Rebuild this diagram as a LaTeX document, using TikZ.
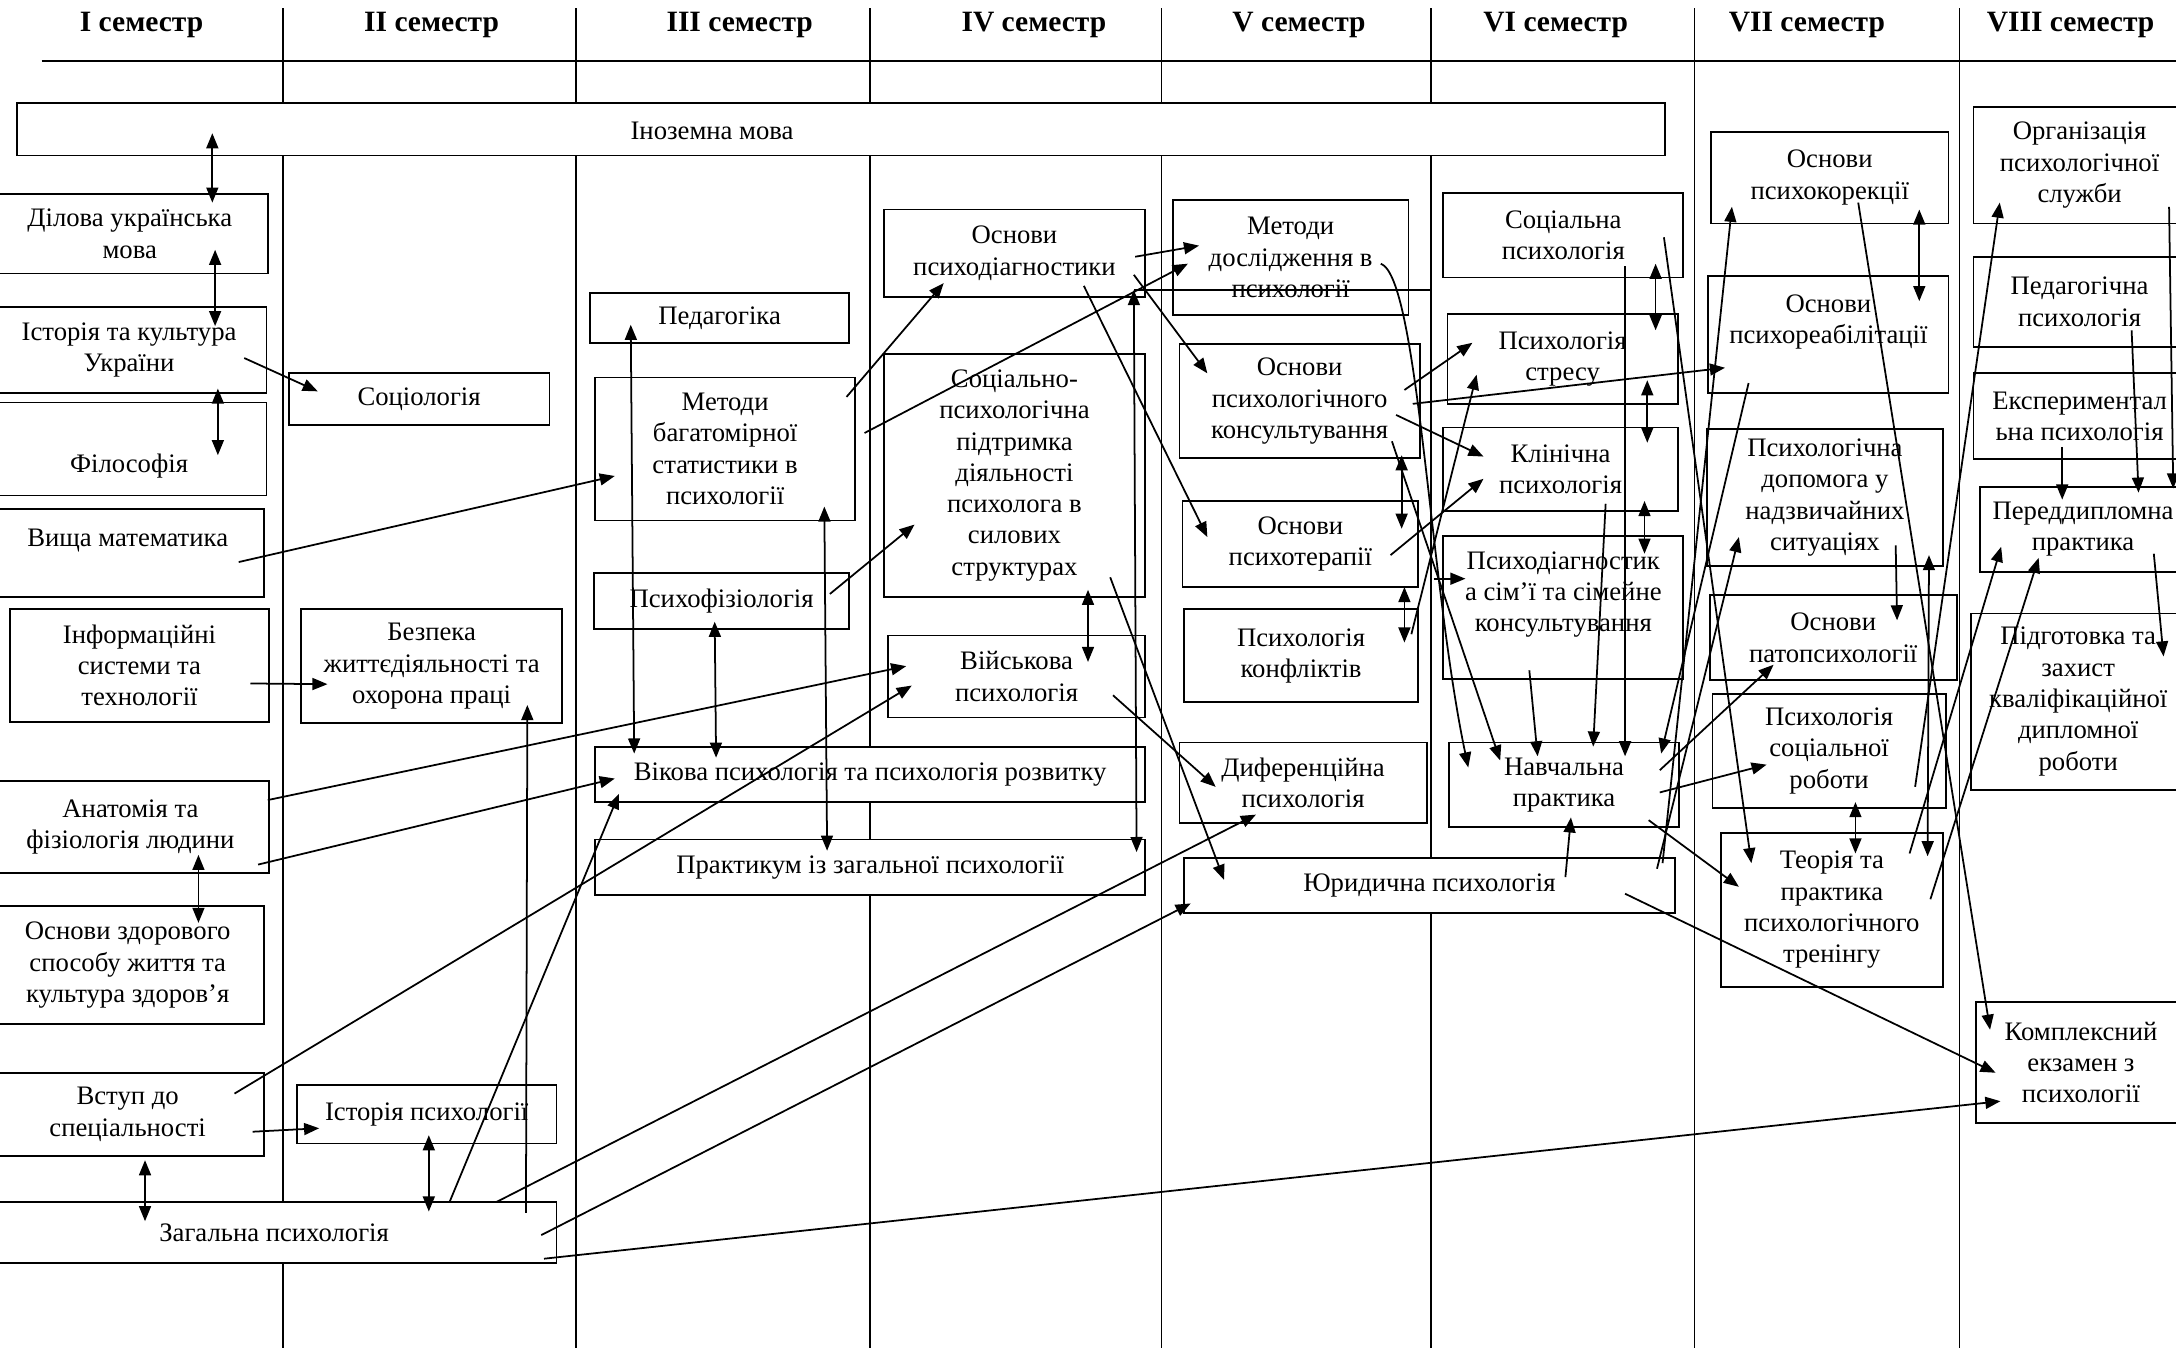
\documentclass[tikz,border=0pt]{standalone}
\usepackage{fontspec}
\setmainfont{Liberation Serif}
\usepackage{tikz}
\usetikzlibrary{arrows.meta,positioning,calc}

\begin{document}
\begin{tikzpicture}[x=0.013878cm, y=-0.013878cm,
  every node/.style={font=\fontsize{7.6}{8.9}\selectfont},
  box/.style={draw, fill=white, line width=0.5pt, inner sep=0pt, align=center},
  spanbox/.style n args={4}{at={({(#1+#3)/2},{(#2+#4)/2})},
    minimum width={(#3-(#1))*0.013878cm}, minimum height={(#4-(#2))*0.013878cm}},
  head/.style={font=\fontsize{8.4}{10}\selectfont\bfseries},
  arr/.style={line width=0.5pt, -{Triangle[length=4.3pt,width=3.4pt]}},
  dbl/.style={line width=0.5pt, {Triangle[length=4.3pt,width=3.4pt]}-{Triangle[length=4.3pt,width=3.4pt]}}]
\useasboundingbox (0,0) rectangle (1568,971);
\fill[white] (0,0) rectangle (1568,971);

% Semester columns
\foreach \x in {204,415,627,837,1031,1221,1412}
  \draw[line width=0.45pt] (\x,6) -- (\x,971);
\draw[line width=0.5pt] (30,44) -- (1568,44);
\foreach \x/\sem/\nm in {102/I/s1, 311/II/s2, 533/III/s3, 745/IV/s4, 936/V/s5, 1121/VI/s6, 1302/VII/s7, 1492/VIII/s8}
  \node[head] (\nm) at (\x,18) {\sem{} семестр};

% Foreign language, all semesters
\node[box, spanbox={12}{74}{1200}{112}, label={[xshift=-36.7pt, yshift=-0.6pt]center:Іноземна мова}] (inoz) {};

% I semester
\node[box, spanbox={-6}{140}{193}{197}] (dilova) {Ділова українська\\мова};
\node[box, spanbox={-6}{221}{192}{283}] (istukr) {Історія та культура\\України};
\node[box, spanbox={-6}{290}{192}{357}] (filos) {\strut\\Філософія};
\node[box, spanbox={-6}{367}{190}{430}] (vyshmat) {Вища математика\\\mbox{}};
\node[box, spanbox={7}{439}{194}{520}] (inform) {Інформаційні\\системи та\\технології};
\node[box, spanbox={-6}{563}{194}{629}] (anat) {Анатомія та\\фізіологія людини};
\node[box, spanbox={-6}{653}{190}{738}] (zdorov) {Основи здорового\\способу життя та\\культура здоров’я};
\node[box, spanbox={-6}{773}{190}{833}] (vstup) {Вступ до\\спеціальності};
\node[box, spanbox={-6}{866}{401}{910}] (zagal) {Загальна психологія};

% II semester
\node[box, spanbox={208}{269}{396}{306}] (sociol) {Соціологія};
\node[box, spanbox={217}{439}{405}{521}] (bezpeka) {Безпека\\життєдіяльності та\\охорона праці};
\node[box, spanbox={214}{782}{401}{824}] (istpsy) {Історія психології};

% III semester
\node[box, spanbox={425}{211}{612}{247}] (pedag) {Педагогіка};
\node[box, spanbox={429}{272}{616}{375}] (metstat) {Методи\\багатомірної\\статистики в\\психології};
\node[box, spanbox={428}{413}{612}{453}] (psyphys) {Психофізіологія};
\node[box, spanbox={429}{538}{825}{578}] (vikova) {Вікова психологія та психологія розвитку};
\node[box, spanbox={429}{605}{825}{645}] (praktykum) {Практикум із загальної психології};

% IV semester
\node[box, spanbox={637}{151}{825}{214}] (psydiag) {Основи\\психодіагностики};
\node[box, spanbox={637}{255}{825}{430}] (sotspid) {Соціально-\\психологічна\\підтримка\\діяльності\\психолога в\\силових\\структурах};
\node[box, spanbox={640}{458}{825}{517}] (viysk) {Військова\\психологія};

% V semester
\node[box, spanbox={845}{144}{1015}{227}] (metdosl) {Методи\\дослідження в\\психології};
\node[box, spanbox={850}{248}{1023}{330}] (konsult) {Основи\\психологічного\\консультування};
\node[box, spanbox={852}{361}{1022}{423}] (psyter) {Основи\\психотерапії};
\node[box, spanbox={853}{439}{1022}{506}] (konfl) {Психологія\\конфліктів};
\node[box, spanbox={850}{535}{1028}{593}] (dyfer) {Диференційна\\психологія};
\node[box, spanbox={853}{618}{1207}{658}] (yuryd) {Юридична психологія};

% VI semester
\node[box, spanbox={1040}{139}{1213}{200}] (sotspsy) {Соціальна\\психологія};
\node[box, spanbox={1043}{226}{1209}{291}] (stres) {Психологія\\стресу};
\node[box, spanbox={1040}{308}{1209}{368}] (klin) {Клінічна\\психологія};
\node[box, spanbox={1040}{386}{1213}{489}] (simya) {Психодіагностик\\а сім’ї та сімейне\\консультування\\\mbox{}};
\node[box, spanbox={1044}{535}{1210}{596}] (navch) {Навчальна\\практика};

% VII semester
\node[box, spanbox={1233}{95}{1404}{161}] (korek) {Основи\\психокорекції};
\node[box, spanbox={1231}{199}{1404}{283}] (reabil) {Основи\\психореабілітації\\\mbox{}};
\node[box, spanbox={1230}{309}{1400}{408}] (dopom) {Психологічна\\допомога у\\надзвичайних\\ситуаціях};
\node[box, spanbox={1232}{429}{1410}{490}] (patops) {Основи\\патопсихології};
\node[box, spanbox={1234}{500}{1402}{582}] (sotrob) {Психологія\\соціальної\\роботи};
\node[box, spanbox={1240}{600}{1400}{711}] (trening) {Теорія та\\практика\\психологічного\\тренінгу};

% VIII semester
\node[box, spanbox={1422}{77}{1575}{161}] (orgserv) {Організація\\психологічної\\служби};
\node[box, spanbox={1422}{185}{1575}{250}] (pedpsy) {Педагогічна\\психологія};
\node[box, spanbox={1422}{269}{1575}{331}] (eksper) {Експериментал\\ьна психологія};
\node[box, spanbox={1427}{351}{1575}{412}] (peredd) {Переддипломна\\практика};
\node[box, spanbox={1420}{442}{1575}{569}] (pidgot) {Підготовка та\\захист\\кваліфікаційної\\дипломної\\роботи};
\node[box, spanbox={1424}{722}{1575}{809}] (kompl) {Комплексний\\екзамен з\\психології};

% Links from I--II semesters
\draw[dbl] ($(inoz)+(-453,3)$) -- ($(dilova)+(59.5,-22.5)$);
\draw[dbl] ($(dilova)+(61.5,11.5)$) -- ($(istukr)+(62,-17)$);
\draw[dbl] ($(istukr)+(64,28)$) -- ($(filos)+(64,4.5)$);
\draw[arr] ($(istukr)+(83,6)$) -- ($(sociol)+(-73,-5.5)$);
\draw[arr] ($(vyshmat)+(80,6.5)$) -- ($(metstat)+(-79.5,19.5)$);
\draw[arr] ($(inform)+(80,13)$) -- ($(bezpeka)+(-75,13)$);
\draw[arr] ($(anat)+(99,-19.5)$) -- ($(viysk)+(-79.5,-7.5)$);
\draw[arr] ($(anat)+(92,27)$) -- ($(vikova)+(-184,3)$);
\draw[dbl] ($(anat)+(49,20)$) -- ($(zdorov)+(51,-30.5)$);
\draw[arr] ($(vstup)+(77,-15)$) -- ($(viysk)+(-75.5,6.5)$);
\draw[arr] ($(vstup)+(90,12.5)$) -- ($(istpsy)+(-77.5,10)$);
\draw[dbl] ($(vstup)+(12.5,33)$) -- ($(zagal)+(-93,-8)$);
\draw[dbl] ($(istpsy)+(1.5,15)$) -- ($(zagal)+(111.5,-15)$);
\draw[arr] ($(zagal)+(126.5,-22)$) -- ($(vikova)+(-181,14)$);
\draw[arr] ($(zagal)+(181.5,-14)$) -- ($(bezpeka)+(69,28)$);
\draw[arr] ($(zagal)+(160.5,-22)$) -- ($(dyfer)+(-34,23)$);
\draw[arr] ($(zagal)+(192.5,2)$) -- ($(yuryd)+(-172,13)$);
\draw[arr] ($(zagal)+(194.5,19)$) -- ($(kompl)+(-58,28)$);

% Links from III--IV semesters
\draw[arr] ($(metstat)+(87.5,-37.5)$) -- ($(psydiag)+(-51,21.5)$);
\draw[arr] ($(metstat)+(100.5,-11.5)$) -- ($(metdosl)+(-74,4.5)$);
\draw[arr] ($(psydiag)+(87,2.5)$) -- ($(metdosl)+(-66,-8.5)$);
\draw[arr] ($(psydiag)+(86,15.5)$) -- ($(konsult)+(-66.5,-20)$);
\draw[arr] ($(psydiag)+(50,23.5)$) -- ($(psyter)+(-67,-5)$);
\draw[arr] ($(psyphys)+(78,-5)$) -- ($(sotspid)+(-72,35.5)$);
\draw[dbl] ($(pedag)+(-64,5)$) -- ($(vikova)+(-170,-15)$);
\draw[dbl] ($(metstat)+(71.5,41.5)$) -- ($(praktykum)+(-31,-12)$);
\draw[dbl] ($(psyphys)+(-5,15)$) -- ($(vikova)+(-111,-12)$);
\draw[dbl] ($(sotspid)+(53,82.5)$) -- ($(viysk)+(51.5,-10.5)$);
\draw[dbl] ($(psydiag)+(86,26.5)$) -- ($(praktykum)+(192,-11)$);
\draw[line width=0.5pt] ($(psydiag)+(86,26.5)$) -- ++(214,0);
\draw[arr] ($(sotspid)+(69,73.5)$) -- ($(yuryd)+(-148,-4)$);
\draw[arr] ($(viysk)+(69.5,13.5)$) -- ($(dyfer)+(-63,3)$);

% Links from V--VI semesters
\draw[arr] ($(konsult)+(75.5,-8)$) -- ($(stres)+(-65,-11.5)$);
\draw[arr] ($(konsult)+(81.5,2)$) -- ($(reabil)+(-74.5,24)$);
\draw[arr] ($(konsult)+(69.5,10)$) -- ($(klin)+(-55.5,-9)$);
\draw[arr] ($(psyter)+(65,8)$) -- ($(klin)+(-55.5,7)$);
\draw[dbl] ($(konsult)+(73.5,39)$) -- ($(psyter)+(73,-11)$);
\draw[arr] ($(konsult)+(66.5,29)$) -- ($(navch)+(-46,-17.5)$);
\draw[arr] ($(metdosl)+(65,4.5)$) .. controls ($(metdosl)+(92,14.5)$) and ($(navch)+(-97,-145.5)$) .. ($(navch)+(-69,-12.5)$);
\draw[dbl] ($(psyter)+(75,31)$) -- ($(konfl)+(74.5,-9.5)$);
\draw[arr] ($(konfl)+(79.5,-15.5)$) -- ($(stres)+(-62,11.5)$);
\draw[arr] ($(simya)+(-93.5,-20.5)$) -- ($(simya)+(-70.5,-20.5)$);
\draw[dbl] ($(sotspsy)+(66.5,20.5)$) -- ($(stres)+(67,-20.5)$);
\draw[dbl] ($(stres)+(61,15.5)$) -- ($(klin)+(62.5,-19)$);
\draw[dbl] ($(klin)+(60.5,23)$) -- ($(simya)+(58.5,-38.5)$);
\draw[arr] ($(sotspsy)+(44.5,22.5)$) -- ($(navch)+(44,-20.5)$);
\draw[arr] ($(klin)+(32.5,25)$) -- ($(navch)+(21,-27.5)$);
\draw[arr] ($(simya)+(-24.5,45.5)$) -- ($(navch)+(-19,-20.5)$);
\draw[arr] ($(yuryd)+(98,-6)$) -- ($(navch)+(5,23.5)$);
\draw[arr] ($(sotspsy)+(72.5,1.5)$) -- ($(trening)+(-58,-33.5)$);
\draw[arr] ($(navch)+(69,-10.5)$) -- ($(patops)+(-43,19.5)$);
\draw[arr] ($(navch)+(69,5.5)$) -- ($(sotrob)+(-45,10)$);
\draw[arr] ($(navch)+(61,25.5)$) -- ($(trening)+(-67,-16.5)$);
\draw[arr] ($(yuryd)+(141,6)$) -- ($(kompl)+(-61.5,7.5)$);
\draw[arr] ($(yuryd)+(168,-16)$) -- ($(korek)+(-70.5,21)$);
\draw[arr] ($(yuryd)+(164,-12)$) -- ($(dopom)+(-62,28.5)$);
\draw[arr] ($(reabil)+(-57.5,35)$) -- ($(navch)+(70,-22.5)$);

% Links from VII--VIII semesters
\draw[dbl] ($(korek)+(64.5,23)$) -- ($(reabil)+(65.5,-24)$);
\draw[arr] ($(korek)+(20.5,18)$) -- ($(kompl)+(-65.5,-23.5)$);
\draw[arr] ($(dopom)+(51,34.5)$) -- ($(patops)+(46,-12.5)$);
\draw[dbl] ($(sotrob)+(19,37)$) -- ($(trening)+(17,-40.5)$);
\draw[dbl] ($(dopom)+(75,41.5)$) -- ($(trening)+(69,-38.5)$);
\draw[arr] ($(trening)+(56,-40.5)$) -- ($(peredd)+(-59,12.5)$);
\draw[arr] ($(sotrob)+(62,26)$) -- ($(orgserv)+(-57.5,27)$);
\draw[arr] ($(trening)+(71,-7.5)$) -- ($(peredd)+(-32,20.5)$);
\draw[arr] ($(pedpsy)+(37.5,20.5)$) -- ($(peredd)+(40,-26.5)$);
\draw[arr] ($(eksper)+(-12.5,22)$) -- ($(peredd)+(-15,-21.5)$);
\draw[arr] ($(peredd)+(51,17.5)$) -- ($(pidgot)+(61.5,-32.5)$);
\draw[arr] ($(orgserv)+(64.5,30)$) -- ($(peredd)+(65,-29.5)$);
\end{tikzpicture}
\end{document}
